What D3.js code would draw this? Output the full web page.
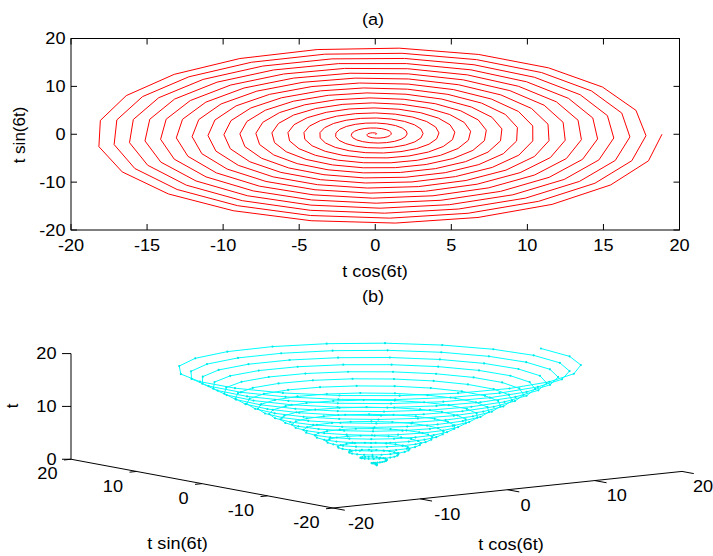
<!DOCTYPE html>
<html lang="en">
<head>
<meta charset="utf-8">
<title>t cos(6t), t sin(6t)</title>
<script src="https://cdn.jsdelivr.net/npm/d3@7/dist/d3.min.js"></script>
<style>
  body { margin: 0; background: #fff; }
  text { font-family: Arial, "Liberation Sans", sans-serif; fill: #000; }
</style>
</head>
<body>
<script>
// parameter t runs 0 .. 6*pi, the curve is (t cos(6t), t sin(6t), t)
var tLimits = [0, 6 * Math.PI];
var tIntervals = 377;
var xTicksA = [-20, -15, -10, -5, 0, 5, 10, 15, 20];
var yTicksA = [-20, -10, 0, 10, 20];
var xyTicksB = [-20, -10, 0, 10, 20];
var zTicksB = [0, 10, 20];

var w = 713, h = 556;
var fs = 16.5, stretch = 1.1;

var tVals = d3.range(tIntervals + 1).map(function(i) {
	return tLimits[0] + (tLimits[1] - tLimits[0]) * i / tIntervals;
});
var pts = tVals.map(function(t) {
	return { x: t * Math.cos(6 * t), y: t * Math.sin(6 * t), z: t };
});

var svg = d3.select("body").append("svg")
	.attr("width", w).attr("height", h);

function label(g, x, y, s, anchor, rot) {
	var el = g.append("text")
		.attr("text-anchor", anchor || "middle")
		.attr("font-size", fs)
		.text(s);
	if (rot) el.attr("transform", "translate(" + x + "," + y + ") rotate(-90)");
	else el.attr("transform", "translate(" + x + "," + y + ") scale(" + stretch + ",1)");
	return el;
}

function seg(g, a, b) {
	g.append("line")
		.attr("x1", a[0]).attr("y1", a[1])
		.attr("x2", b[0]).attr("y2", b[1])
		.attr("stroke", "#000").attr("stroke-width", 1);
}

// ---------- (a) 2D spiral ----------
var gA = svg.append("g");
var x = d3.scaleLinear().domain([-20, 20]).range([71, 679.5]);
var y = d3.scaleLinear().domain([-20, 20]).range([230, 38.5]);
var tk = 6;

gA.append("path")
	.datum(pts)
	.attr("fill", "none")
	.attr("stroke", "#ff0000")
	.attr("stroke-width", 1)
	.attr("d", d3.line().x(function(d) { return x(d.x); }).y(function(d) { return y(d.y); }));

gA.append("rect")
	.attr("x", x(-20)).attr("y", y(20))
	.attr("width", x(20) - x(-20)).attr("height", y(-20) - y(20))
	.attr("fill", "none").attr("stroke", "#000").attr("stroke-width", 1);

xTicksA.forEach(function(v) {
	seg(gA, [x(v), y(-20)], [x(v), y(-20) - tk]);
	seg(gA, [x(v), y(20)], [x(v), y(20) + tk]);
	label(gA, x(v), 251, v);
});
yTicksA.forEach(function(v) {
	seg(gA, [x(-20), y(v)], [x(-20) + tk, y(v)]);
	seg(gA, [x(20), y(v)], [x(20) - tk, y(v)]);
	label(gA, 65.5, y(v), v, "end").attr("dy", "0.35em");
});
label(gA, 373, 25, "(a)");
label(gA, 375, 277, "t cos(6t)");
label(gA, 25, 135, "t sin(6t)", "middle", true).attr("font-size", 17);

// ---------- (b) 3D spiral ----------
var gB = svg.append("g");
var az = Math.atan2(-262, 349), el = 30 * Math.PI / 180;
var Sx = 436.4, Sy = 122, cx = 376.5, cy = 412.5;
var nu = d3.scaleLinear().domain([-20, 20]).range([-0.5, 0.5]);
var nv = d3.scaleLinear().domain([-20, 20]).range([-0.5, 0.5]);
var nw = d3.scaleLinear().domain([0, 20]).range([-0.5, 0.5]);

function proj(px, py, pz) {
	var a = nu(px), b = nv(py), c = nw(pz);
	return [
		cx + Sx * (Math.cos(az) * a + Math.sin(az) * b),
		cy - Sy * (-Math.sin(el) * Math.sin(az) * a + Math.sin(el) * Math.cos(az) * b + Math.cos(el) * c)
	];
}

// axis lines
seg(gB, proj(-20, -20, 0), proj(20, -20, 0));
seg(gB, proj(-20, -20, 0), proj(-20, 20, 0));
seg(gB, proj(-20, 20, 0), proj(-20, 20, 20));

xyTicksB.forEach(function(v) {
	// t cos(6t) axis
	var p0 = proj(v, -20, 0);
	seg(gB, p0, proj(v, -21.8, 0));
	label(gB, p0[0] + 13 - v / 10, p0[1] + 15, v, "start").attr("dy", "0.35em");
	// t sin(6t) axis
	seg(gB, proj(-20, v, 0), proj(-20.8, v, 0));
	var q = proj(-21.55, v, 0);
	label(gB, q[0], q[1] + 13, v, "end").attr("dy", "0.35em");
});
zTicksB.forEach(function(v) {
	var p = proj(-20, 20, v);
	seg(gB, p, [p[0] - 9, p[1]]);
	label(gB, 56.5, p[1], v, "end").attr("dy", "0.35em");
});

var pp = pts.map(function(d) { return proj(d.x, d.y, d.z); });
gB.append("path")
	.datum(pp)
	.attr("fill", "none")
	.attr("stroke", "#00ffff")
	.attr("stroke-width", 1)
	.attr("d", d3.line());
gB.selectAll("circle")
	.data(pp)
	.enter()
	.append("circle")
	.attr("cx", function(d) { return d[0]; })
	.attr("cy", function(d) { return d[1]; })
	.attr("r", 1.1)
	.attr("fill", "#00e8e8");

label(gB, 373, 302, "(b)");
label(gB, 177.5, 549, "t sin(6t)");
label(gB, 511, 550, "t cos(6t)");
label(gB, 18, 406, "t", "middle", true).attr("font-size", 17);
</script>
</body>
</html>
